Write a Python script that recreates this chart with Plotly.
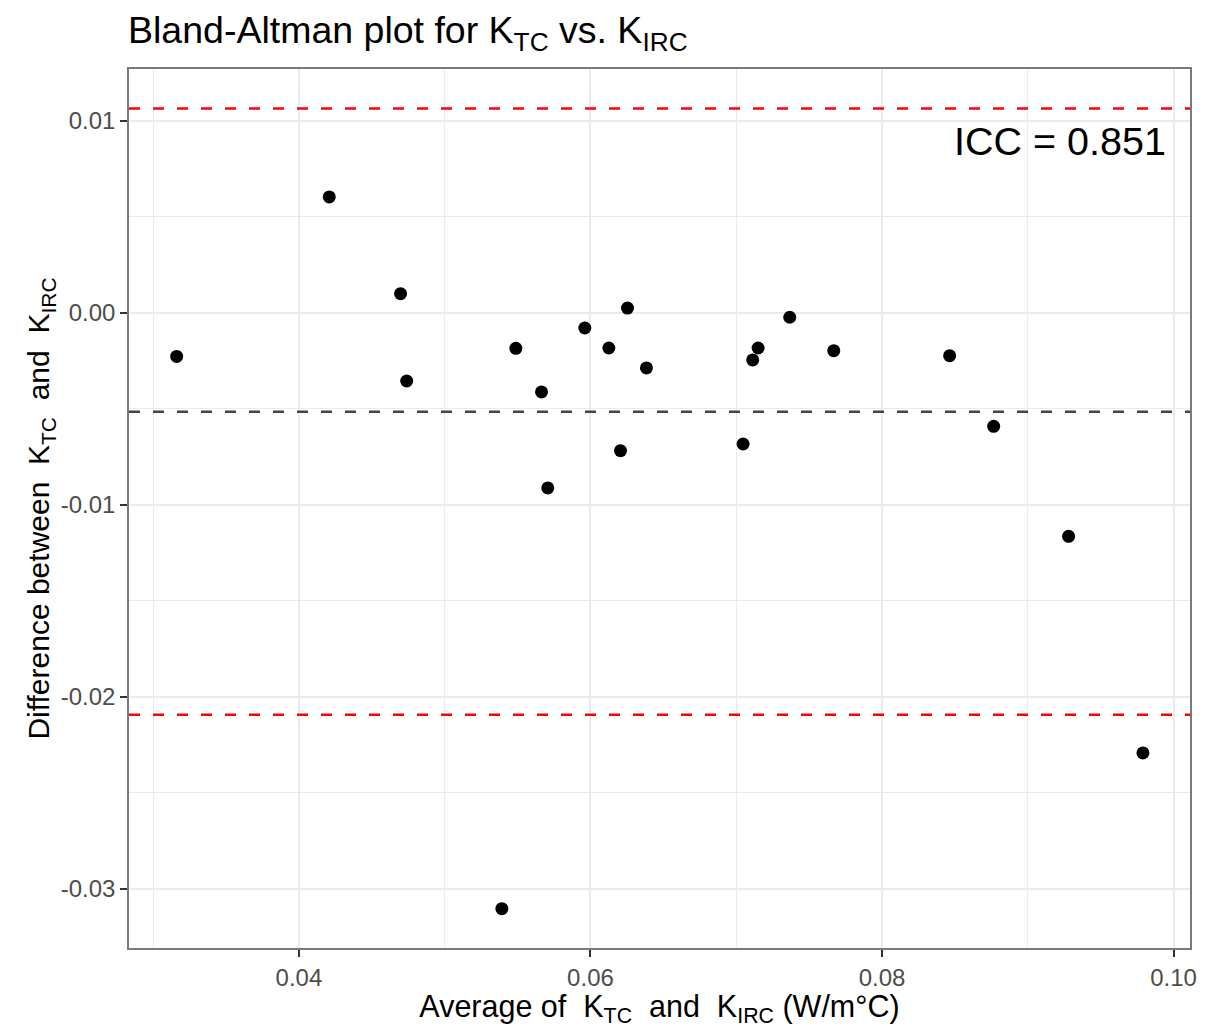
import plotly.graph_objects as go

# Data
avg_k = [0.03161, 0.04208, 0.04697, 0.04739, 0.05392, 0.05488, 0.05664, 0.05707,
         0.05961, 0.06126, 0.06206, 0.06254, 0.06384, 0.07047, 0.07113, 0.07150,
         0.07367, 0.07669, 0.08464, 0.08766, 0.09280, 0.09790]
diff_k = [-0.00228, 0.00603, 0.00099, -0.00356, -0.03104, -0.00186, -0.00413, -0.00913,
          -0.00080, -0.00184, -0.00719, 0.00024, -0.00288, -0.00684, -0.00246, -0.00184,
          -0.00024, -0.00198, -0.00224, -0.00592, -0.01165, -0.02293]

mean_diff = -0.00516
upper_loa = 0.01063
lower_loa = -0.02094
icc_text = "ICC = 0.851"

x_tickvals = [0.04, 0.06, 0.08, 0.10]
x_ticktext = ["0.04", "0.06", "0.08", "0.10"]
x_minorvals = [0.03, 0.05, 0.07, 0.09]
y_tickvals = [0.01, 0.00, -0.01, -0.02, -0.03]
y_ticktext = ["0.01", "0.00", "-0.01", "-0.02", "-0.03"]
y_minorvals = [0.005, -0.005, -0.015, -0.025]

FONT = "Liberation Sans, Arial, Helvetica, sans-serif"
GRID = "#EBEBEB"

fig = go.Figure()
fig.add_trace(go.Scatter(x=avg_k, y=diff_k, mode="markers",
                         marker=dict(color="black", size=13, line=dict(width=0)),
                         showlegend=False, hoverinfo="x+y"))

for yv, col in [(upper_loa, "#FF0000"), (lower_loa, "#FF0000"), (mean_diff, "#444444")]:
    fig.add_shape(type="line", xref="paper", x0=0, x1=1, yref="y", y0=yv, y1=yv,
                  line=dict(color=col, width=2.5, dash="11px,13px"), layer="above")

fig.add_annotation(x=0.09965, y=0.00896, xref="x", yref="y", text=icc_text,
                   showarrow=False, xanchor="right", yanchor="middle",
                   font=dict(family=FONT, size=39.5, color="black"))

axis_common = dict(showline=True, mirror=True, linecolor="#7a7a7a", linewidth=1.5,
                   ticks="outside", ticklen=7, tickwidth=1.5, tickcolor="#333333",
                   showgrid=True, gridcolor=GRID, gridwidth=2, zeroline=False,
                   tickfont=dict(family=FONT, size=24, color="#4D4D4D"))

fig.update_xaxes(range=[0.02834, 0.10113], tickmode="array", tickvals=x_tickvals,
                 ticktext=x_ticktext,
                 minor=dict(tickmode="array", tickvals=x_minorvals, showgrid=True,
                            gridcolor=GRID, gridwidth=1.2, ticks=""),
                 title=dict(text="Average of  K<sub>TC</sub>  and  K<sub>IRC</sub> (W/m°C)",
                            font=dict(family=FONT, size=30.5, color="black"), standoff=6),
                 **axis_common)
fig.update_yaxes(range=[-0.03309, 0.01269], tickmode="array", tickvals=y_tickvals,
                 ticktext=y_ticktext,
                 minor=dict(tickmode="array", tickvals=y_minorvals, showgrid=True,
                            gridcolor=GRID, gridwidth=1.2, ticks=""),
                 title=dict(text="Difference between  K<sub>TC</sub>  and  K<sub>IRC</sub>",
                            font=dict(family=FONT, size=30, color="black"), standoff=2),
                 **axis_common)

fig.update_layout(
    width=1208, height=1028, autosize=False,
    margin=dict(l=129, r=18, t=69, b=80, autoexpand=False),
    paper_bgcolor="white", plot_bgcolor="white",
    title=dict(text="Bland-Altman plot for K<sub>TC</sub> vs. K<sub>IRC</sub>",
               xref="container", x=128 / 1208, xanchor="left",
               yref="container", y=1 - 30 / 1028, yanchor="middle",
               font=dict(family=FONT, size=37.5, color="black")),
    showlegend=False,
)

fig.write_html("out.html")
